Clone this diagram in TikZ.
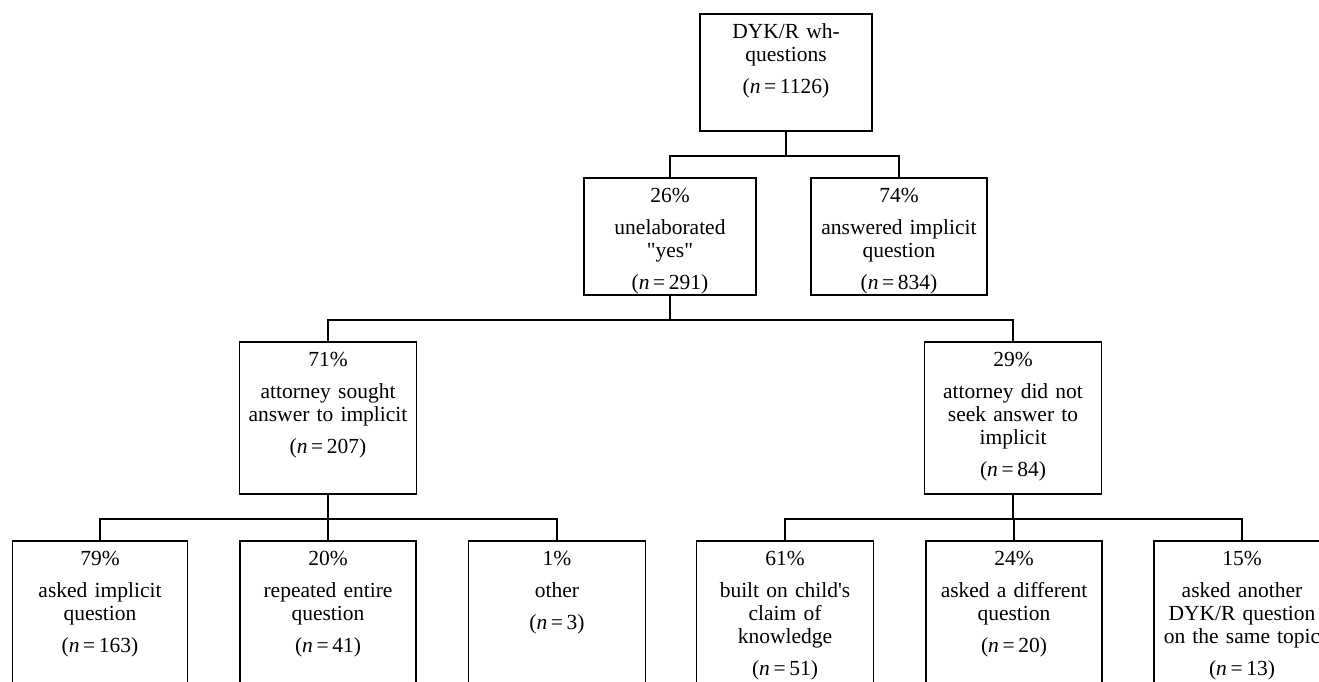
\documentclass[tikz,border=0pt]{standalone}
\usepackage{fontspec}
\setmainfont{Liberation Serif}
\usepackage{tikz}
\usetikzlibrary{positioning}

\begin{document}
\begin{tikzpicture}[
        x=1pt, y=-1pt,
        box/.style={draw, line width=1.8pt, anchor=north, align=center,
            inner xsep=2pt, inner ysep=0pt, text height=25pt,
            font=\fontsize{21.5}{23}\selectfont},
        link/.style={line width=1.8pt}
    ]
    \useasboundingbox (0,0) rectangle (1319,682);
    \clip (0,0) rectangle (1319,682);

    \node[box, text width=168pt, text depth=92pt] (dyk) at (786,13)
        {DYK/R wh-\\questions\\[9pt](\textit{n}\,=\,1126)};

    \node[box, text width=168pt, text depth=92pt] (unel) at (670,177)
        {26\%\\[9pt]unelaborated\\\textquotedbl yes\textquotedbl\\[9pt](\textit{n}\,=\,291)};
    \node[box, text width=172pt, text depth=92pt] (ans) at (899,177)
        {74\%\\[9pt]answered implicit\\question\\[9pt](\textit{n}\,=\,834)};

    \node[box, text width=173pt, text depth=127pt] (sought) at (328,341)
        {71\%\\[9pt]attorney sought\\answer to implicit\\[9pt](\textit{n}\,=\,207)};
    \node[box, text width=173pt, text depth=127pt] (notsought) at (1013,341)
        {29\%\\[9pt]attorney did not\\seek answer to\\implicit\\[9pt](\textit{n}\,=\,84)};

    \node[box, text width=171pt, text depth=155pt] (asked) at (100,540)
        {79\%\\[9pt]asked implicit\\question\\[9pt](\textit{n}\,=\,163)};
    \node[box, text width=172pt, text depth=155pt] (repeated) at (328,540)
        {20\%\\[9pt]repeated entire\\question\\[9pt](\textit{n}\,=\,41)};
    \node[box, text width=173pt, text depth=155pt] (other) at (557,540)
        {1\%\\[9pt]other\\[9pt](\textit{n}\,=\,3)};
    \node[box, text width=173pt, text depth=155pt] (built) at (785,540)
        {61\%\\[9pt]built on child\textquotesingle s\\claim of\\knowledge\\[9pt](\textit{n}\,=\,51)};
    \node[box, text width=172pt, text depth=155pt] (different) at (1014,540)
        {24\%\\[9pt]asked a different\\question\\[9pt](\textit{n}\,=\,20)};
    \node[box, text width=172pt, text depth=155pt] (another) at (1242,540)
        {15\%\\[9pt]asked another\\DYK/R question\\on the same topic\\[9pt](\textit{n}\,=\,13)};

    \foreach \c in {unel,ans}
        \draw[link] (dyk.south) -- ++(0,24) -| (\c.north);
    \foreach \c in {sought,notsought}
        \draw[link] (unel.south) -- ++(0,24) -| (\c.north);
    \foreach \c in {asked,repeated,other}
        \draw[link] (sought.south) -- ++(0,24) -| (\c.north);
    \foreach \c in {built,different,another}
        \draw[link] (notsought.south) -- ++(0,24) -| (\c.north);
\end{tikzpicture}
\end{document}
